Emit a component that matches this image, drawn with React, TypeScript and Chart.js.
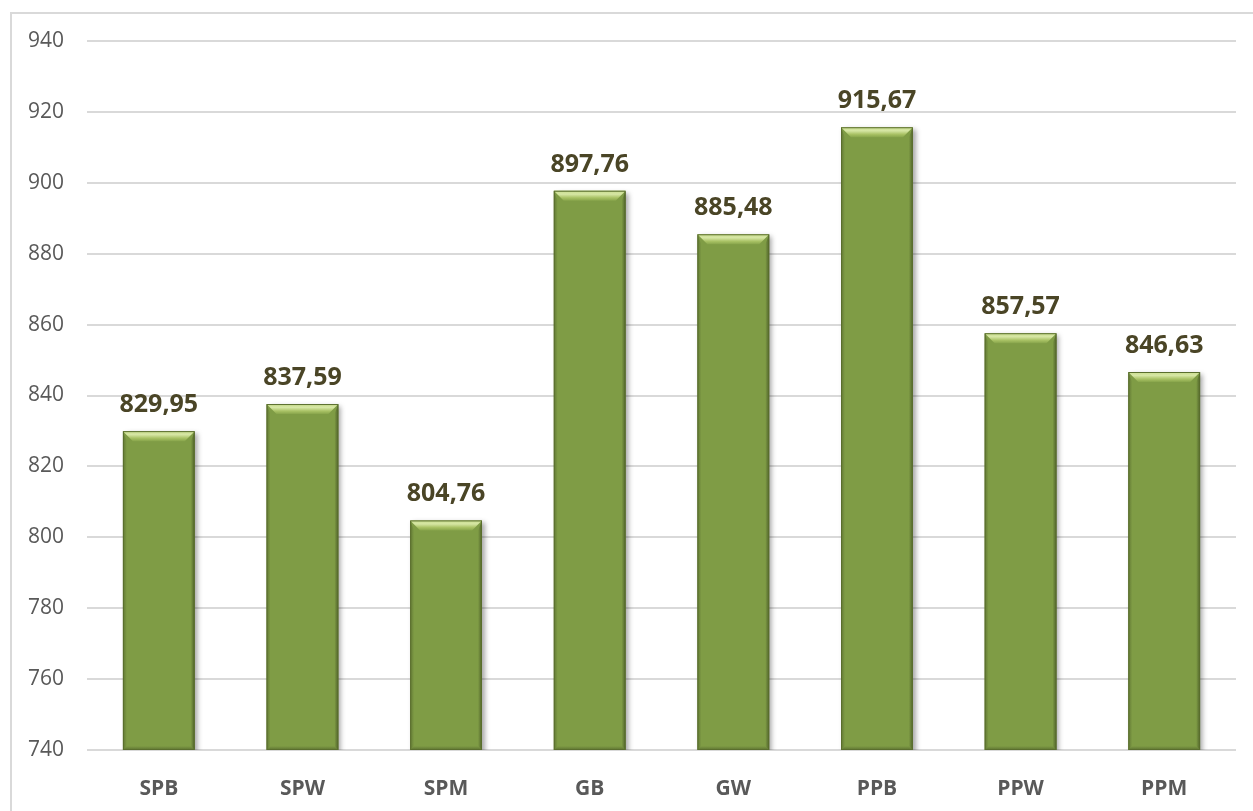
import React, { useEffect, useRef } from "react";
import { Chart, registerables } from "chart.js";

Chart.register(...registerables);

const categories = ["SPB", "SPW", "SPM", "GB", "GW", "PPB", "PPW", "PPM"];
const values = [829.95, 837.59, 804.76, 897.76, 885.48, 915.67, 857.57, 846.63];
const yMin = 740;
const yMax = 940;
const yStep = 20;

const fmt = (v: number) => v.toFixed(2).replace(".", ",");

const shadowPlugin = {
  id: "barShadow",
  beforeDatasetDraw(chart: any) {
    const ctx = chart.ctx;
    ctx.save();
    ctx.shadowColor = "rgba(0,0,0,0.35)";
    ctx.shadowBlur = 5;
    ctx.shadowOffsetX = 3;
    ctx.shadowOffsetY = 2;
  },
  afterDatasetDraw(chart: any) {
    chart.ctx.restore();
  },
};

const bevelPlugin = {
  id: "bevel",
  afterDatasetsDraw(chart: any) {
    const ctx = chart.ctx;
    const meta = chart.getDatasetMeta(0);
    const area = chart.chartArea;
    meta.data.forEach((bar: any, i: number) => {
      const { x, y, base, width } = bar.getProps(["x", "y", "base", "width"], true);
      const l = x - width / 2;
      const r = x + width / 2;
      const t = y;
      const b = Math.min(base, area.bottom);
      const bv = 10;
      const sv = 4;
      ctx.save();
      // top bevel
      const g = ctx.createLinearGradient(0, t, 0, t + bv);
      g.addColorStop(0, "#c9dd8e");
      g.addColorStop(0.35, "#d6e6a4");
      g.addColorStop(0.7, "#a9c265");
      g.addColorStop(1, "#88a54b");
      ctx.fillStyle = g;
      ctx.beginPath();
      ctx.moveTo(l, t);
      ctx.lineTo(r, t);
      ctx.lineTo(r - bv, t + bv);
      ctx.lineTo(l + bv, t + bv);
      ctx.closePath();
      ctx.fill();
      // left side
      const gl = ctx.createLinearGradient(l, 0, l + sv, 0);
      gl.addColorStop(0, "rgba(60,75,30,0.45)");
      gl.addColorStop(1, "rgba(60,75,30,0)");
      ctx.fillStyle = gl;
      ctx.beginPath();
      ctx.moveTo(l, t);
      ctx.lineTo(l + sv, t + bv);
      ctx.lineTo(l + sv, b - sv);
      ctx.lineTo(l, b);
      ctx.closePath();
      ctx.fill();
      // right side
      const gr = ctx.createLinearGradient(r - sv, 0, r, 0);
      gr.addColorStop(0, "rgba(40,50,20,0)");
      gr.addColorStop(1, "rgba(40,50,20,0.55)");
      ctx.fillStyle = gr;
      ctx.beginPath();
      ctx.moveTo(r, t);
      ctx.lineTo(r - sv, t + bv);
      ctx.lineTo(r - sv, b - sv);
      ctx.lineTo(r, b);
      ctx.closePath();
      ctx.fill();
      // bottom
      const gb = ctx.createLinearGradient(0, b - sv, 0, b);
      gb.addColorStop(0, "rgba(40,50,20,0)");
      gb.addColorStop(1, "rgba(40,50,20,0.4)");
      ctx.fillStyle = gb;
      ctx.beginPath();
      ctx.moveTo(l, b);
      ctx.lineTo(r, b);
      ctx.lineTo(r - sv, b - sv);
      ctx.lineTo(l + sv, b - sv);
      ctx.closePath();
      ctx.fill();
      // outline
      ctx.strokeStyle = "#5a6e2e";
      ctx.lineWidth = 1;
      ctx.strokeRect(l + 0.5, t + 0.5, width - 1, b - t - 1);
      // label
      ctx.fillStyle = "#4a4526";
      ctx.font = "bold 25px 'Open Sans'";
      ctx.textAlign = "center";
      ctx.textBaseline = "alphabetic";
      ctx.fillText(fmt(values[i]), x, t - 19);
      ctx.restore();
    });
  },
};

export default function App() {
  const ref = useRef<HTMLCanvasElement | null>(null);
  useEffect(() => {
    document.body.style.margin = "0";
    const chart = new Chart(ref.current as HTMLCanvasElement, {
      type: "bar",
      data: {
        labels: categories,
        datasets: [
          {
            data: values,
            backgroundColor: "#7f9c45",
            borderWidth: 0,
            barPercentage: 0.5,
            categoryPercentage: 1,
          },
        ],
      },
      options: {
        animation: false,
        responsive: false,
        maintainAspectRatio: false,
        layout: { padding: { top: 41, right: 17, left: 0, bottom: 0 } },
        plugins: {
          legend: { display: false },
          tooltip: { enabled: false },
        },
        scales: {
          x: {
            grid: { display: false },
            border: { display: false },
            ticks: {
              color: "#595959",
              font: { family: "'Open Sans'", size: 21, weight: "bold" },
              padding: 18,
            },
            afterFit(scale: any) {
              scale.height = 61;
            },
          },
          y: {
            min: yMin,
            max: yMax,
            ticks: {
              stepSize: yStep,
              color: "#595959",
              font: { family: "'Open Sans'", size: 21 },
              padding: 23,
            },
            grid: { color: "#d9d9d9", lineWidth: 2, drawTicks: false },
            border: { display: false },
            afterFit(scale: any) {
              scale.width = 87;
            },
          },
        },
      },
      plugins: [shadowPlugin, bevelPlugin],
    });
    return () => chart.destroy();
  }, []);
  return (
    <div style={{ position: "absolute", left: 0, top: 0, width: 1253, height: 811, background: "#fff", overflow: "hidden" }}>
      <div
        style={{
          position: "absolute",
          left: 10,
          top: 12,
          right: -5,
          bottom: -5,
          borderTop: "2px solid #d9d9d9",
          borderLeft: "2px solid #d9d9d9",
        }}
      />
      <canvas ref={ref} width={1253} height={811} style={{ position: "absolute", left: 0, top: 0 }} />
    </div>
  );
}
